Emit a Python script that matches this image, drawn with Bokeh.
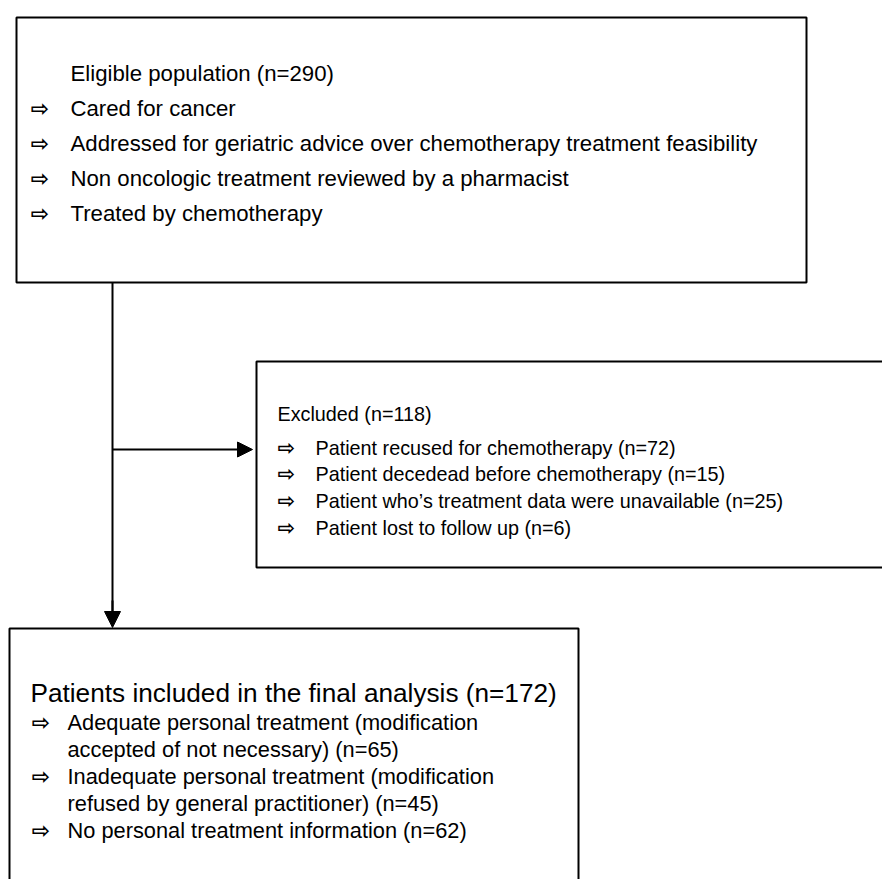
from bokeh.plotting import figure
from bokeh.models import Range1d, Arrow, NormalHead
from bokeh.core.properties import value
from bokeh.embed import file_html
from bokeh.resources import INLINE

# ---- content ----
eligible_title = "Eligible population (n=290)"
eligible_items = [
    "Cared for cancer",
    "Addressed for geriatric advice over chemotherapy treatment feasibility",
    "Non oncologic treatment reviewed by a pharmacist",
    "Treated by chemotherapy",
]
excluded_title = "Excluded (n=118)"
excluded_items = [
    "Patient recused for chemotherapy (n=72)",
    "Patient decedead before chemotherapy (n=15)",
    "Patient who\u2019s treatment data were unavailable (n=25)",
    "Patient lost to follow up (n=6)",
]
included_title = "Patients included in the final analysis (n=172)"
included_items = [
    ["Adequate personal treatment (modification", "accepted of not necessary) (n=65)"],
    ["Inadequate personal treatment (modification", "refused by general practitioner) (n=45)"],
    ["No personal treatment information (n=62)"],
]

FONT = "Liberation Sans"
ARROW_GLYPH = "\u21e8"

W, H = 882, 879
p = figure(width=W, height=H, output_backend="svg", toolbar_location=None,
           x_range=Range1d(0, W), y_range=Range1d(H, 0),
           min_border=0)
p.axis.visible = False
p.grid.visible = False
p.outline_line_color = None
p.background_fill_color = "white"

# boxes (left, right, top, bottom) in page pixel coords
boxes = dict(left=[16, 256, 9], right=[806, 900, 578], top=[17, 361, 628], bottom=[282, 567, 900])
p.quad(left=boxes["left"], right=boxes["right"], top=boxes["top"], bottom=boxes["bottom"],
       fill_color=None, line_color="black", line_width=2)

# connectors
p.segment(x0=[112], y0=[282], x1=[112], y1=[612], line_color="black", line_width=2)
p.add_layout(Arrow(end=NormalHead(size=16, fill_color="black", line_color="black"),
                   x_start=112, y_start=600, x_end=112, y_end=627, line_width=2))
p.add_layout(Arrow(end=NormalHead(size=15, fill_color="black", line_color="black"),
                   x_start=112, y_start=449, x_end=252, y_end=449, line_width=2))


def put(x, y, txt, size, font=FONT, style="normal"):
    p.text(x=x, y=y, text=txt, text_font=value(font), text_font_size=f"{size}px",
           text_font_style=style,
           text_baseline="middle", text_align="left", text_color="black")


# box 1
put([70], [73], [eligible_title], 22.2)
ys1 = [108 + 35 * i for i in range(len(eligible_items))]
put([30] * len(ys1), ys1, [ARROW_GLYPH] * len(ys1), 22, "DejaVu Sans", "bold")
put([70] * len(ys1), ys1, eligible_items, 22.2)

# box 2
put([277], [413], [excluded_title], 19.8)
ys2 = [447 + 26.7 * i for i in range(len(excluded_items))]
put([277] * len(ys2), ys2, [ARROW_GLYPH] * len(ys2), 21, "DejaVu Sans", "bold")
put([315] * len(ys2), ys2, excluded_items, 19.8)

# box 3
put([30], [692], [included_title], 26.2)
y = 722
arrow_y, line_x, line_y, line_t = [], [], [], []
for item in included_items:
    arrow_y.append(y)
    for ln in item:
        line_x.append(67)
        line_y.append(y)
        line_t.append(ln)
        y += 27
put([31] * len(arrow_y), arrow_y, [ARROW_GLYPH] * len(arrow_y), 22, "DejaVu Sans", "bold")
put(line_x, line_y, line_t, 21.8)

open("out.html", "w").write(file_html(p, INLINE))
